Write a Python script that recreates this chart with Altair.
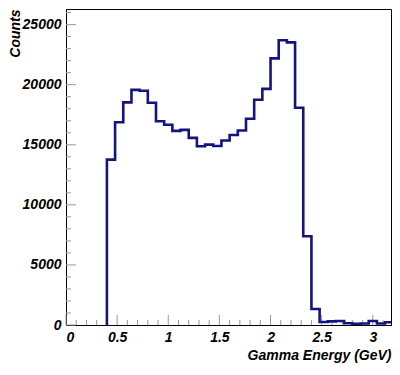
import altair as alt
import pandas as pd

# Histogram bins (left edges, GeV) and counts
bin_low = [0.40, 0.48, 0.56, 0.64, 0.72, 0.80, 0.88, 0.96, 1.04, 1.12,
           1.20, 1.28, 1.36, 1.44, 1.52, 1.60, 1.68, 1.76, 1.84, 1.92,
           2.00, 2.08, 2.16, 2.24, 2.32, 2.40, 2.48, 2.56, 2.64, 2.72,
           2.80, 2.88, 2.96, 3.04, 3.12]
counts = [13760, 16880, 18530, 19570, 19490, 18500, 16960, 16670, 16160, 16240,
          15570, 14880, 15010, 14900, 15360, 15810, 16190, 17170, 18750, 19650,
          22190, 23700, 23520, 18080, 7390, 1330, 250, 300, 330, 150,
          100, 120, 330, 130, 230]
bin_width = 0.08

x_major = [0, 0.5, 1, 1.5, 2, 2.5, 3]
x_minor = [0.1, 0.2, 0.3, 0.4, 0.6, 0.7, 0.8, 0.9, 1.1, 1.2, 1.3, 1.4,
           1.6, 1.7, 1.8, 1.9, 2.1, 2.2, 2.3, 2.4, 2.6, 2.7, 2.8, 2.9, 3.1]
y_major = [0, 5000, 10000, 15000, 20000, 25000]
y_minor = [1000, 2000, 3000, 4000, 6000, 7000, 8000, 9000, 11000, 12000,
           13000, 14000, 16000, 17000, 18000, 19000, 21000, 22000, 23000,
           24000, 26000]

X_DOMAIN = [0, 3.178]
Y_DOMAIN = [0, 26300]
W, H = 325, 316
FONT = "Liberation Sans"
LINE_COLOR = "#14147f"

# step outline points
pts_x = [bin_low[0]] + bin_low + [bin_low[-1] + bin_width]
pts_y = [0] + counts + [counts[-1]]
hist = pd.DataFrame({"x": pts_x, "y": pts_y, "i": list(range(len(pts_x)))})

xs = alt.Scale(domain=X_DOMAIN, nice=False, zero=False)
ys = alt.Scale(domain=Y_DOMAIN, nice=False)

x_axis = alt.Axis(
    values=x_major, format="~g", ticks=False, grid=False,
    domainColor="black", domainWidth=1,
    labelFont=FONT, labelFontSize=14, labelFontStyle="italic",
    labelFontWeight="bold", labelColor="black", labelPadding=5,
    title="Gamma Energy (GeV)", titleFont=FONT, titleFontSize=14,
    titleFontStyle="italic", titleFontWeight="bold", titleColor="black",
    titleAnchor="end", titlePadding=4)
y_axis = alt.Axis(
    values=y_major, format="d", ticks=False, grid=False,
    domainColor="black", domainWidth=1,
    labelFont=FONT, labelFontSize=14, labelFontStyle="italic",
    labelFontWeight="bold", labelColor="black", labelPadding=5,
    title="Counts", titleFont=FONT, titleFontSize=14,
    titleFontStyle="italic", titleFontWeight="bold", titleColor="black",
    titleAnchor="end", titlePadding=0)

line = alt.Chart(hist).mark_line(
    interpolate="step-after", color=LINE_COLOR, strokeWidth=2.6, clip=True
).encode(
    x=alt.X("x:Q", scale=xs, axis=x_axis),
    y=alt.Y("y:Q", scale=ys, axis=y_axis),
    order="i:Q",
)

def xticks(vals, length):
    return alt.Chart(pd.DataFrame({"x": vals})).mark_rule(
        color="#999999", strokeWidth=1
    ).encode(
        x=alt.X("x:Q", scale=xs, axis=x_axis),
        y=alt.value(H), y2=alt.value(H - length),
    )

def yticks(vals, length):
    return alt.Chart(pd.DataFrame({"y": vals})).mark_rule(
        color="#999999", strokeWidth=1
    ).encode(
        y=alt.Y("y:Q", scale=ys, axis=y_axis),
        x=alt.value(0), x2=alt.value(length),
    )

chart = alt.layer(
    xticks(x_minor, 5), xticks(x_major, 10),
    yticks(y_minor, 5), yticks(y_major, 10),
    line,
).properties(
    width=W, height=H,
    background="white",
    autosize=alt.AutoSizeParams(type="none"),
    padding={"left": 58, "top": 1, "right": 1, "bottom": 40},
).configure_view(
    stroke="black", strokeWidth=1
)

chart.save("out.html", embed_options={"renderer": "svg", "actions": False})
